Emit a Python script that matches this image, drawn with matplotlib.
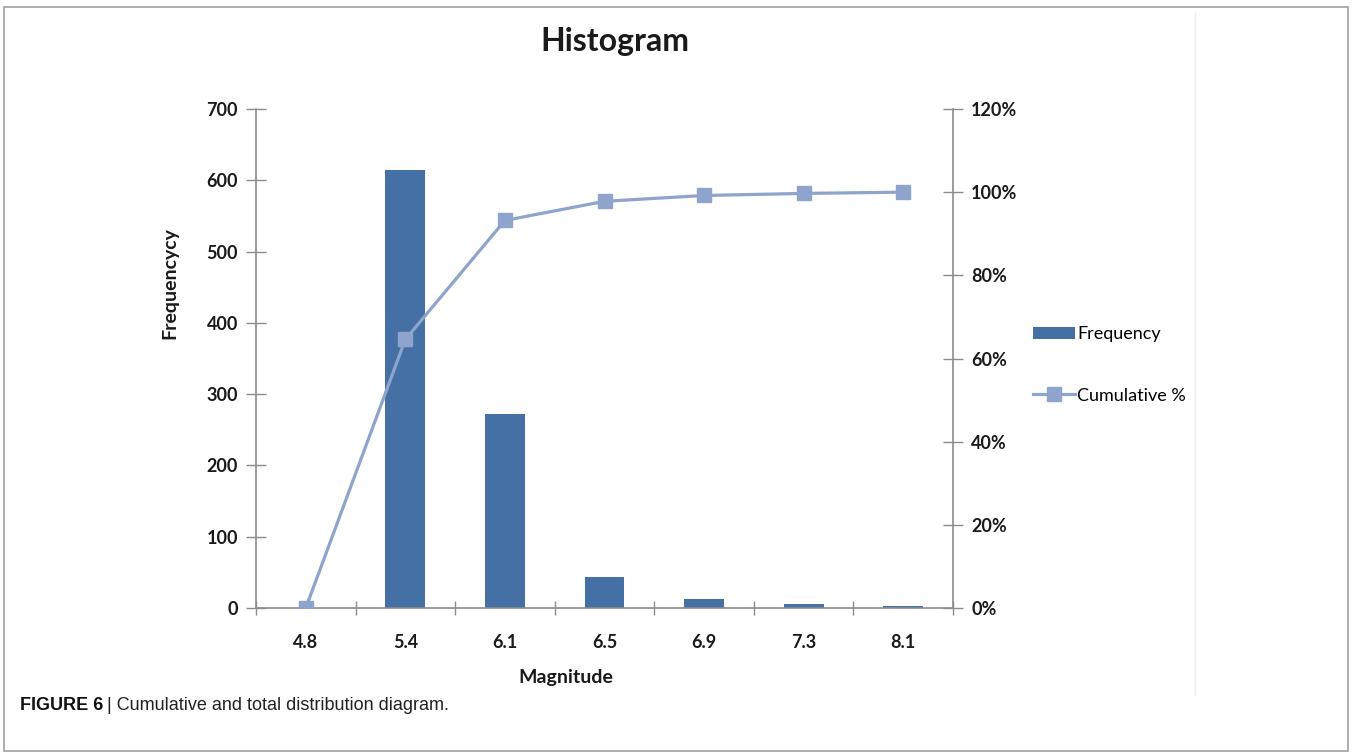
import matplotlib
matplotlib.use("Agg")
import matplotlib.pyplot as plt
from matplotlib.patches import Rectangle
from matplotlib.lines import Line2D
from matplotlib.ticker import FixedLocator, FuncFormatter

# Magnitude bins and counts
magnitudes = ["4.8", "5.4", "6.1", "6.5", "6.9", "7.3", "8.1"]
frequency = [0, 615, 272, 44, 13, 5, 3]
cumulative_pct = [0.0, 64.6, 93.2, 97.8, 99.2, 99.7, 100.0]

freq_ticks = [0, 100, 200, 300, 400, 500, 600, 700]
pct_ticks = [0, 20, 40, 60, 80, 100, 120]

BAR = "#4470A5"
LINE = "#8EA4CC"
AXIS = "#8C8C8C"
FONT = "Lato"

fig = plt.figure(figsize=(13.52, 7.56), dpi=100)
fig.patch.set_facecolor("white")

# outer frame of the figure panel
fig.add_artist(Rectangle((0.003, 0.006), 0.994, 0.985, transform=fig.transFigure,
                         fill=False, edgecolor="#A0A0A0", linewidth=1.2))
# faint chart-area edge
fig.add_artist(Line2D([1195 / 1352, 1195 / 1352], [1 - 695 / 756, 1 - 12 / 756],
                      transform=fig.transFigure, color="#EEEEEE", linewidth=1))

ax = fig.add_axes([256 / 1352, 1 - 608 / 756, (953 - 256) / 1352, (608 - 109) / 756])
ax2 = ax.twinx()

x = list(range(len(magnitudes)))
bars = ax.bar(x, frequency, width=0.4, color=BAR, zorder=2, label="Frequency")
ln, = ax2.plot(x, cumulative_pct, color=LINE, linewidth=2.3, marker="s",
               markersize=10, markerfacecolor=LINE, markeredgecolor=LINE,
               zorder=3, label="Cumulative %")

ax.set_xlim(-0.5, len(magnitudes) - 0.5)
ax.set_ylim(0, 700)
ax2.set_ylim(0, 120)

for a in (ax, ax2):
    a.spines["top"].set_visible(False)
    for s in ("left", "right", "bottom"):
        a.spines[s].set_color(AXIS)
        a.spines[s].set_linewidth(1.2)
ax.spines["right"].set_visible(False)
ax2.spines["left"].set_visible(False)
ax2.spines["bottom"].set_visible(False)

ax.set_yticks(freq_ticks)
ax2.set_yticks(pct_ticks)
ax2.yaxis.set_major_formatter(FuncFormatter(lambda v, p: f"{int(v)}%"))

ax.set_xticks(x)
ax.set_xticklabels(magnitudes)
ax.xaxis.set_minor_locator(FixedLocator([i + 0.5 for i in range(-1, len(magnitudes))]))
ax.tick_params(axis="x", which="major", length=0, pad=19)
ax.tick_params(axis="x", which="minor", direction="inout", length=10, color=AXIS, width=1)
ax.tick_params(axis="y", direction="inout", length=14, color=AXIS, width=1, pad=6)
ax2.tick_params(axis="y", direction="inout", length=14, color=AXIS, width=1, pad=6)

for lab in ax.get_xticklabels() + ax.get_yticklabels() + ax2.get_yticklabels():
    lab.set_fontfamily(FONT)
    lab.set_fontweight("bold")
    lab.set_fontsize(13)
    lab.set_color("#1A1A1A")

ax.set_ylabel("Frequencycy", fontfamily=FONT, fontweight="bold", fontsize=14,
              color="#1A1A1A", va="center")
ax.yaxis.set_label_coords(-0.123, 0.651)
ax.set_xlabel("Magnitude", fontfamily=FONT, fontweight="bold", fontsize=14,
              color="#1A1A1A", va="center")
ax.xaxis.set_label_coords(0.445, -0.14)

fig.text(615 / 1352, 1 - 42 / 756, "Histogram", ha="center", va="center",
         fontfamily=FONT, fontweight="bold", fontsize=23, color="#1A1A1A")

leg = fig.legend([bars, ln], ["Frequency", "Cumulative %"],
                 loc="center left", bbox_to_anchor=(1017 / 1352, 1 - 365 / 756),
                 frameon=False, labelspacing=2.5, handlelength=2.3,
                 handletextpad=0.15, prop={"family": FONT, "size": 13})

# caption: bold figure number followed by the description
cap_y = 1 - 705 / 756
t1 = fig.text(20 / 1352, cap_y, "FIGURE 6", ha="left", va="center",
              fontfamily="Liberation Sans", fontweight="bold", fontsize=13,
              color="#111111")
fig.canvas.draw()
bb = t1.get_window_extent()
fig.text((bb.x1 + 4) / 1352, cap_y, "| Cumulative and total distribution diagram.",
         ha="left", va="center", fontfamily="Liberation Sans", fontsize=13,
         color="#222222")

fig.savefig("out.png", dpi=100, facecolor="white")
